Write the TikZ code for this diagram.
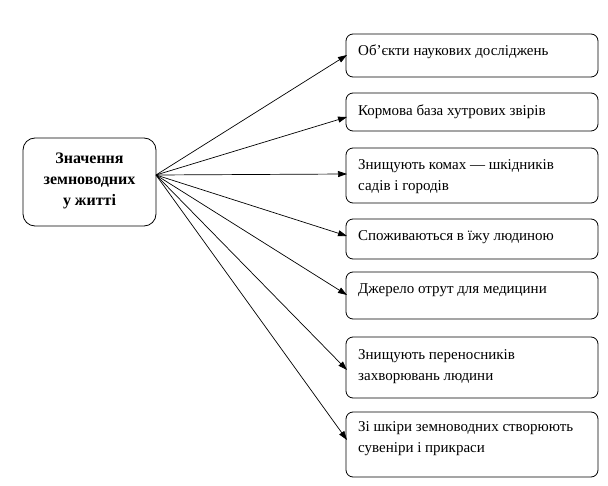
\documentclass[tikz,border=0pt]{standalone}
\usepackage{fontspec}
\setmainfont{Liberation Serif}
\usetikzlibrary{arrows.meta,calc}
\begin{document}
\begin{tikzpicture}[x=1pt,y=-1pt,
  box/.style={draw, line width=0.8pt, rounded corners=7pt},
  txt/.style={anchor=north west, inner sep=0pt, align=left, font=\fontsize{15}{21}\selectfont},
  arr/.style={line width=0.7pt, -{Triangle[length=9pt,width=6pt]}}]
\useasboundingbox (0,0) rectangle (608,486);
\node[draw, line width=0.8pt, rounded corners=12pt, minimum width=133pt, minimum height=88pt, inner sep=0pt] (c) at (89.5,182) {};
\node[align=center, inner sep=0pt, font=\fontsize{16}{21}\selectfont\bfseries] (ct) at (89.5,181) {Значення\\земноводних\\у житті};
\coordinate (src) at (156,175);
% right boxes
\foreach \n/\t/\b in {1/34/77, 2/93/131, 3/148/203, 4/219/259, 5/272/319, 6/337/398, 7/412/477}{
  \path[box] (346,\t) rectangle (598,\b);
  \path (346,\t) coordinate (b\n nw);
}
\node[txt] (t1) at ($(b1nw)+(12,6.3)$) {\strut Об’єкти наукових досліджень};
\node[txt] (t2) at ($(b2nw)+(12,7.3)$) {\strut Кормова база хутрових звірів};
\node[txt] (t3) at ($(b3nw)+(12,6.3)$) {\strut Знищують комах — шкідників\\садів і городів};
\node[txt] (t4) at ($(b4nw)+(12,6.3)$) {\strut Споживаються в їжу людиною};
\node[txt] (t5) at ($(b5nw)+(12,6.3)$) {\strut Джерело отрут для медицини};
\node[txt] (t6) at ($(b6nw)+(12,8)$) {\strut Знищують переносників\\захворювань людини};
\node[txt] (t7) at ($(b7nw)+(12,5)$) {\strut Зі шкіри земноводних створюють\\сувеніри і прикраси};
% arrows
\draw[arr] (src) -- ($(b1nw)+(1,21)$);
\draw[arr] (src) -- ($(b2nw)+(1,24)$);
\draw[arr] (src) -- ($(b3nw)+(1,26)$);
\draw[arr] (src) -- ($(b4nw)+(1,17)$);
\draw[arr] (src) -- ($(b5nw)+(1,23)$);
\draw[arr] (src) -- ($(b6nw)+(1,33)$);
\draw[arr] (src) -- ($(b7nw)+(1,28)$);
\end{tikzpicture}
\end{document}
